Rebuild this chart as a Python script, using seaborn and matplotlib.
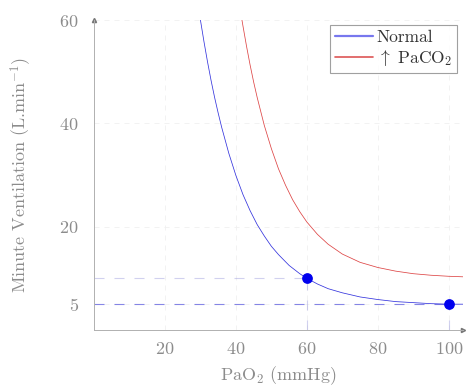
import numpy as np
import pandas as pd
import matplotlib.pyplot as plt
import seaborn as sns

# values
pao2_normal = [30, 31, 32, 33, 34, 35, 36, 38, 40, 42, 44, 46, 48, 50, 52, 55, 58, 60,
               63, 66, 70, 75, 80, 85, 90, 95, 100, 104]
ve_normal = [60.0, 55.8, 51.9, 48.3, 45.0, 42.0, 39.2, 34.2, 29.9, 26.2, 23.1, 20.4, 18.2,
             16.2, 14.6, 12.5, 10.9, 10.0, 8.9, 8.0, 7.2, 6.4, 5.9, 5.5, 5.3, 5.1, 5.0, 5.0]

pao2_high = [41.7, 42, 43, 44, 45, 46, 48, 50, 52, 54, 56, 58, 60, 63, 66, 70, 75, 80,
             85, 90, 95, 100, 104]
ve_high = [60.0, 58.8, 54.9, 51.3, 48.0, 45.0, 39.6, 35.1, 31.2, 28.0, 25.2, 22.9, 20.9,
           18.5, 16.6, 14.7, 13.1, 12.1, 11.4, 10.9, 10.6, 10.4, 10.3]

point_x = [60, 100]
point_y = [10, 5]

x_ticks = [20, 40, 60, 80, 100]
y_ticks = [5, 20, 40, 60]

df = pd.concat([
    pd.DataFrame({'PaO2': pao2_normal, 'VE': ve_normal, 'curve': 'Normal'}),
    pd.DataFrame({'PaO2': pao2_high, 'VE': ve_high, 'curve': r'$\uparrow$ PaCO$_2$'}),
])

sns.set_theme(style='white')
plt.rcParams['font.family'] = ['cmr10', 'DejaVu Sans']
plt.rcParams['mathtext.fontset'] = 'cm'
plt.rcParams['axes.formatter.use_mathtext'] = True

grey = '#8c8c8c'
fig = plt.figure(figsize=(4.66, 3.9), dpi=100)
ax = fig.add_axes([0.2017, 0.1538, 0.7918, 0.7949])

# guide lines
ax.plot([0, 100], [5, 5], color='#5555dd', lw=0.8, ls=(0, (9, 9)), alpha=0.7, zorder=1)
ax.plot([0, 60], [10, 10], color='#9999dd', lw=0.8, ls=(0, (9, 9)), alpha=0.45, zorder=1)
ax.plot([60, 60], [0, 10], color='#9999dd', lw=0.8, ls=(0, (9, 9)), alpha=0.45, zorder=1)
ax.plot([100, 100], [0, 5], color='#9999dd', lw=0.8, ls=(0, (9, 9)), alpha=0.45, zorder=1)

sns.lineplot(data=df, x='PaO2', y='VE', hue='curve', palette=['#3333dd', '#dd4444'],
             lw=0.55, ax=ax, zorder=3, legend=False)
ax.scatter(point_x, point_y, s=45, color='#0000ee', zorder=4, clip_on=False)

# legend handles drawn thicker and lighter like the original
from matplotlib.lines import Line2D
handles = [Line2D([], [], color='#7777ee', lw=1.6), Line2D([], [], color='#dd5555', lw=1.2)]
leg = ax.legend(handles, ['Normal', r'$\uparrow$ PaCO$_2$'], loc='upper right',
                bbox_to_anchor=(0.985, 0.985), fontsize=12.5, frameon=True, fancybox=False,
                handlelength=2.2, handletextpad=0.2, borderpad=0.3, labelspacing=0.15,
                borderaxespad=0)
leg.get_frame().set_edgecolor('#888888')
leg.get_frame().set_linewidth(0.8)
for t in leg.get_texts():
    t.set_color('#333333')

ax.set_xlim(0, 104)
ax.set_ylim(0, 60)
ax.set_xticks(x_ticks)
ax.set_yticks(y_ticks)
ax.grid(True, ls=(0, (6, 6)), color='#f0f0f0', lw=0.6)
for s in ['top', 'right']:
    ax.spines[s].set_visible(False)
for s in ['left', 'bottom']:
    ax.spines[s].set_color('#b0b0b0')
    ax.spines[s].set_linewidth(0.7)
ax.plot(0, 1.0, '^', color='#777777', ms=3, transform=ax.transAxes, clip_on=False)
ax.plot(1.0, 0, '>', color='#777777', ms=3, transform=ax.transAxes, clip_on=False)
ax.tick_params(direction='inout', length=4, width=0.6, color='#c8c8c8',
               labelsize=13, labelcolor=grey, pad=6)
ax.tick_params(axis='y', pad=9)

ax.set_xlabel(r'PaO$_2$ (mmHg)', fontsize=13, color=grey, labelpad=5)
ax.set_ylabel(r'Minute Ventilation (L.min$^{-1}$)', fontsize=13, color=grey, labelpad=18)

fig.savefig('out.png', dpi=100)
